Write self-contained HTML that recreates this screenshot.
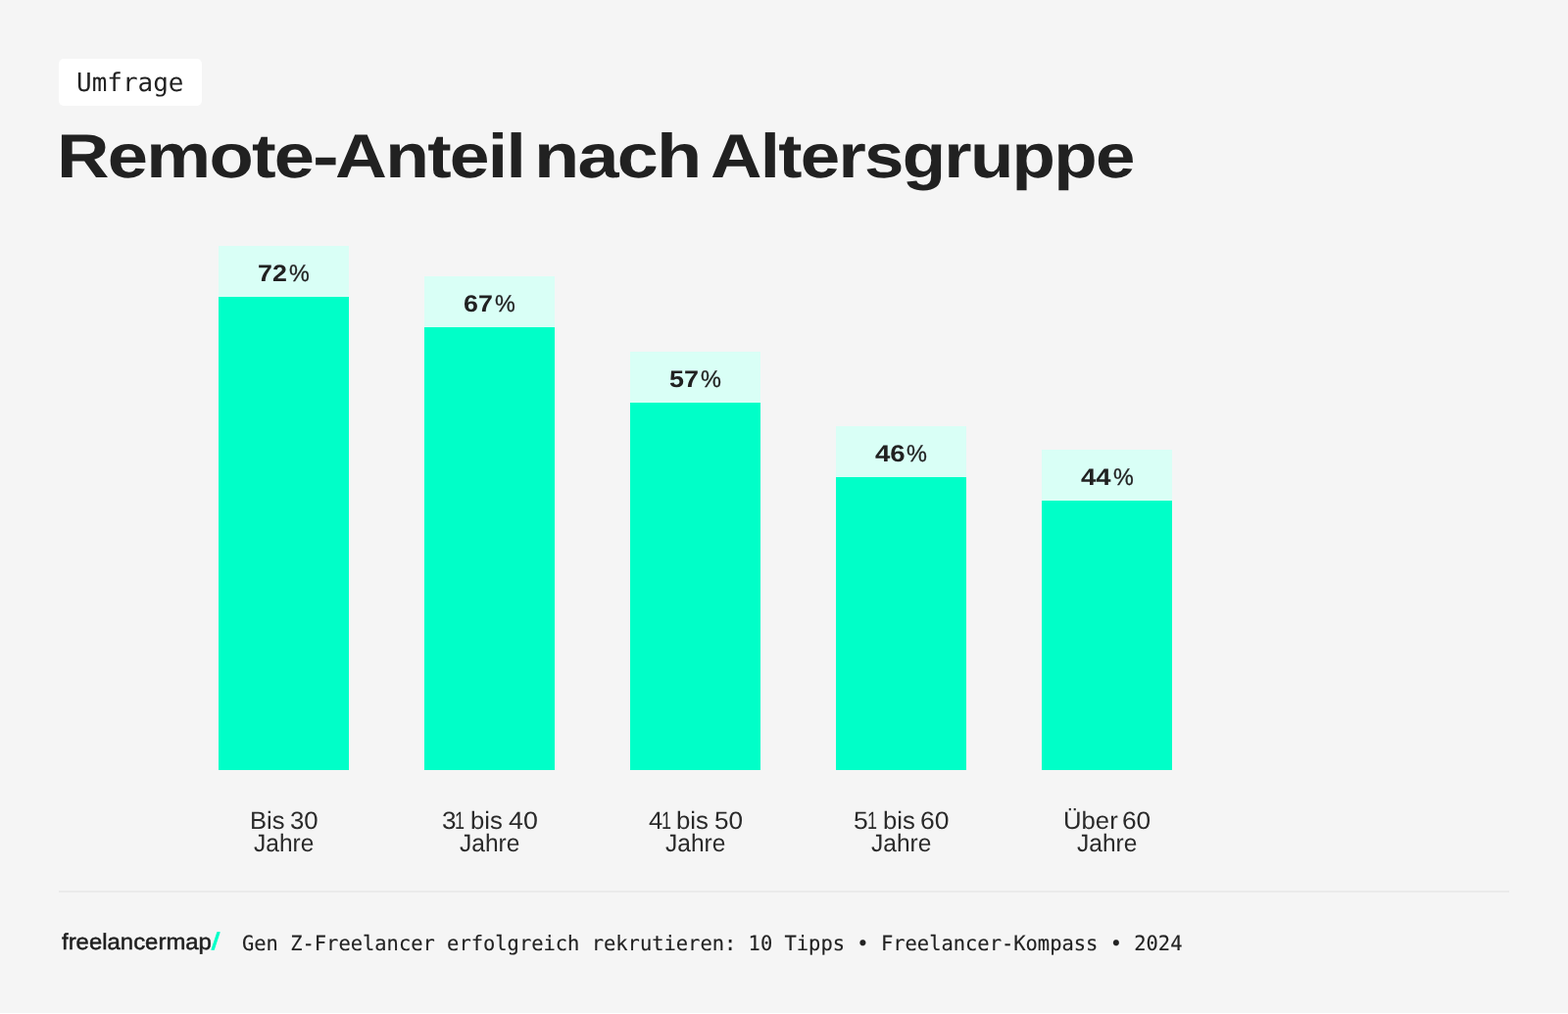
<!DOCTYPE html>
<html lang="de">
<head>
<meta charset="utf-8">
<title>Remote-Anteil nach Altersgruppe</title>
<style>
  html, body { margin: 0; padding: 0; background: #ffffff; }
  body { width: 1600px; height: 1035px; overflow: hidden; position: relative;
         font-family: "Liberation Sans", sans-serif; color: #222222; }
  .card { position: absolute; left: 0; top: 0; width: 1600px; height: 1034px; background: #f5f5f5; overflow: hidden; }
  .abs { position: absolute; margin: 0; padding: 0; }
  .ln { position: absolute; left: 0; top: 0; margin: 0; padding: 0; font-size: 0; line-height: 0; white-space: nowrap; }
  .t { display: inline-block; vertical-align: top; position: relative; width: 0; white-space: nowrap; transform-origin: 0 0; text-rendering: geometricPrecision; }
  .tag { left: 60px; top: 60px; width: 146px; height: 48px; background: #ffffff; border-radius: 5px; }
  .tagtxt { font-family: "DejaVu Sans Mono", "Liberation Mono", monospace; font-size: 26px; line-height: 30px; color: #222222; }
  .headline { left: 60px; top: 120px; width: 1480px; height: 80px; font-size: 63.4px; line-height: 80px; font-weight: 700; }
  .title { font-weight: 700; font-size: 63.4px; line-height: 80px; letter-spacing: -1.5px; color: #212121; }
  .chart { left: 60px; top: 240px; width: 1480px; height: 650px; }
  .col { top: 0; width: 210px; height: 650px; }
  .cap { left: 38px; width: 133px; background: #d9fff6; }
  .bar { left: 38px; width: 133px; background: #00ffc8; }
  .val { font-weight: 700; font-size: 24px; line-height: 30px; color: #212121; }
  .pct { font-weight: 400; font-size: 24px; line-height: 30px; color: #212121; -webkit-text-stroke: 0.3px #212121; }
  .lab { font-weight: 400; font-size: 25.1px; line-height: 30px; color: #2a2a2a; }
  .rule { left: 60px; top: 909px; width: 1480px; height: 2px; background: #eaeaea; }
  .footer { left: 60px; top: 940px; width: 1480px; height: 44px; }
  .logo { font-weight: 400; font-size: 23px; line-height: 30px; color: #1e1e1e; -webkit-text-stroke: 0.5px #1e1e1e; }
  .slash { font-weight: 400; font-size: 24px; line-height: 30px; color: #00ffc8; -webkit-text-stroke: 0.85px #00ffc8; }
  .src { font-family: "DejaVu Sans Mono", "Liberation Mono", monospace; font-size: 21px; line-height: 30px; color: #222222; -webkit-text-stroke: 0.15px #222222; }
</style>
</head>
<body>
<div class="card">
  <div class="abs tag"><div class="ln"><span class="t tagtxt" style="left:17.73px;top:10px;transform:scaleX(0.9983)">Umfrage</span></div></div>
  <h1 class="abs headline"><span class="ln"><span class="t title" style="left:-1.57px;top:0px;transform:scaleX(1.1693)">Remote</span><span class="t title" style="left:259.46px;top:0px;transform:scaleX(1.2673)">-</span><span class="t title" style="left:281.62px;top:0px;transform:scaleX(1.1551)">Anteil</span> <span class="t title" style="left:485.00px;top:0px;transform:scaleX(1.1946)">nach</span> <span class="t title" style="left:665.24px;top:0px;transform:scaleX(1.1464)">Altersgruppe</span></span></h1>
  <div class="abs chart">
    <div class="abs col" style="left:125px">
      <div class="abs cap" style="top:11.0px;height:52.6px"></div>
      <div class="abs bar" style="top:62.6px;height:483.4px"></div>
      <div class="ln value"><span class="t val" style="left:78.44px;top:25px;transform:scaleX(1.1168)">72</span><span class="t pct" style="left:110.01px;top:25px;transform:scaleX(0.9741)">%</span></div>
      <div class="ln label"><span class="t lab" style="left:69.90px;top:583px;transform:scaleX(1.0196)">Bis</span> <span class="t lab" style="left:110.69px;top:583px;transform:scaleX(1.0262)">30</span> <span class="t lab" style="left:73.97px;top:606px;transform:scaleX(0.9769)">Jahre</span></div>
    </div>
    <div class="abs col" style="left:335px">
      <div class="abs cap" style="top:42.0px;height:52.5px"></div>
      <div class="abs bar" style="top:93.5px;height:452.5px"></div>
      <div class="ln value"><span class="t val" style="left:78.41px;top:56px;transform:scaleX(1.1178)">67</span><span class="t pct" style="left:110.21px;top:56px;transform:scaleX(0.9741)">%</span></div>
      <div class="ln label"><span class="t lab" style="left:55.88px;top:583px;transform:scaleX(1.0413)">3</span><span class="t lab" style="left:69.33px;top:583px;transform:scaleX(0.7200)">1</span> <span class="t lab" style="left:85.14px;top:583px;transform:scaleX(1.0236)">bis</span> <span class="t lab" style="left:123.68px;top:583px;transform:scaleX(1.0674)">40</span> <span class="t lab" style="left:73.97px;top:606px;transform:scaleX(0.9769)">Jahre</span></div>
    </div>
    <div class="abs col" style="left:545px">
      <div class="abs cap" style="top:119.0px;height:52.5px"></div>
      <div class="abs bar" style="top:170.5px;height:375.5px"></div>
      <div class="ln value"><span class="t val" style="left:78.30px;top:133px;transform:scaleX(1.1224)">57</span><span class="t pct" style="left:110.21px;top:133px;transform:scaleX(0.9791)">%</span></div>
      <div class="ln label"><span class="t lab" style="left:57.31px;top:583px;transform:scaleX(1.0206)">4</span><span class="t lab" style="left:70.28px;top:583px;transform:scaleX(0.7200)">1</span> <span class="t lab" style="left:85.43px;top:583px;transform:scaleX(1.0270)">bis</span> <span class="t lab" style="left:123.78px;top:583px;transform:scaleX(1.0416)">50</span> <span class="t lab" style="left:73.97px;top:606px;transform:scaleX(0.9769)">Jahre</span></div>
    </div>
    <div class="abs col" style="left:755px">
      <div class="abs cap" style="top:195.0px;height:52.5px"></div>
      <div class="abs bar" style="top:246.5px;height:299.5px"></div>
      <div class="ln value"><span class="t val" style="left:78.28px;top:209px;transform:scaleX(1.1499)">46</span><span class="t pct" style="left:110.41px;top:209px;transform:scaleX(0.9791)">%</span></div>
      <div class="ln label"><span class="t lab" style="left:56.46px;top:583px;transform:scaleX(1.0581)">5</span><span class="t lab" style="left:70.23px;top:583px;transform:scaleX(0.7200)">1</span> <span class="t lab" style="left:85.84px;top:583px;transform:scaleX(1.0236)">bis</span> <span class="t lab" style="left:123.55px;top:583px;transform:scaleX(1.0537)">60</span> <span class="t lab" style="left:73.97px;top:606px;transform:scaleX(0.9769)">Jahre</span></div>
    </div>
    <div class="abs col" style="left:965px">
      <div class="abs cap" style="top:219.0px;height:52.5px"></div>
      <div class="abs bar" style="top:270.5px;height:275.5px"></div>
      <div class="ln value"><span class="t val" style="left:77.68px;top:233px;transform:scaleX(1.1438)">44</span><span class="t pct" style="left:110.91px;top:233px;transform:scaleX(0.9741)">%</span></div>
      <div class="ln label"><span class="t lab" style="left:59.72px;top:583px;transform:scaleX(1.0238)">Über</span> <span class="t lab" style="left:120.16px;top:583px;transform:scaleX(1.0459)">60</span> <span class="t lab" style="left:73.97px;top:606px;transform:scaleX(0.9769)">Jahre</span></div>
    </div>
  </div>
  <div class="abs rule"></div>
  <div class="abs footer">
    <div class="ln brand"><span class="t logo" style="left:2.92px;top:6px;transform:scaleX(1.0401)">freelancermap</span><span class="t slash" style="left:156.33px;top:7px;transform:scaleX(1.2090)">/</span></div>
    <div class="ln source"><span class="t src" style="left:187.35px;top:8px;transform:scaleX(0.9729)">Gen Z-Freelancer erfolgreich rekrutieren: 10 Tipps • Freelancer-Kompass • 2024</span></div>
  </div>
</div>
</body>
</html>
